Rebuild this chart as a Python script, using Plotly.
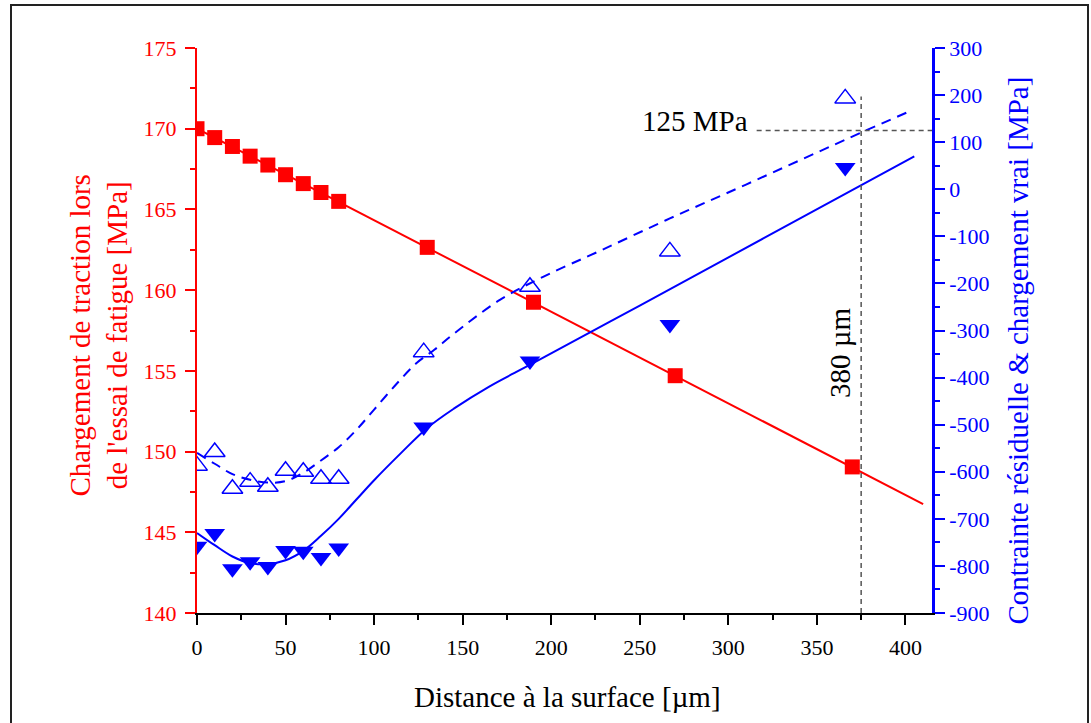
import plotly.graph_objects as go

# ---------------- data ----------------
dist_red = [0, 10, 20, 30, 40, 50, 60, 70, 80, 130, 190, 270, 370]
charge_traction = [170.0, 169.45, 168.9, 168.3, 167.75, 167.15, 166.6, 166.05,
                   165.5, 162.65, 159.25, 154.7, 149.05]
fit_red_x = [0, 410]
fit_red_y = [170.0, 146.75]

dist_blue = [0, 10, 20, 30, 40, 50, 60, 70, 80, 128, 188, 267, 366]
contrainte_residuelle = [-587, -558, -636, -621, -632, -598, -600, -615, -615,
                         -346, -207, -132, 193]
chargement_vrai = [-758, -731, -806, -791, -801, -767, -769, -782, -762,
                   -505, -365, -287, 46]

curve_solid_x = [0, 10, 20, 30, 40, 50, 60, 70, 80, 90, 100, 115, 130, 145,
                 165, 190, 250, 320, 405]
curve_solid_y = [-730, -756, -780, -794, -796, -788, -768, -736, -700, -659,
                 -618, -561, -507, -466, -419, -369, -247, -104, 70]

curve_dash_x = [0, 10, 20, 30, 40, 50, 60, 70, 80, 90, 100, 113, 124, 134,
                145, 171, 196, 228, 267, 310, 376, 402]
curve_dash_y = [-560, -583, -605, -617, -623, -620, -602, -576, -548, -511,
                -468, -412, -369, -341, -307, -235, -185, -130, -62, 10, 122, 165]

ref_x = 375          # vertical guide (µm)
ref_x_top = 197      # top of vertical guide (MPa, right axis)
ref_y = 125          # horizontal guide (MPa, right axis)
ref_y_start = 316    # start of horizontal guide (µm)

x_ticks = [0, 50, 100, 150, 200, 250, 300, 350, 400]
left_ticks = [140, 145, 150, 155, 160, 165, 170, 175]
right_ticks = [-900, -800, -700, -600, -500, -400, -300, -200, -100, 0, 100, 200, 300]

RED = '#ff0000'
BLUE = '#0000ff'
FONT = 'Liberation Serif'

fig = go.Figure()

# blue curves (right axis)
fig.add_trace(go.Scatter(x=curve_dash_x, y=curve_dash_y, yaxis='y2', mode='lines',
                         line=dict(color=BLUE, width=2, dash='10px,7px', shape='spline'),
                         hoverinfo='skip'))
fig.add_trace(go.Scatter(x=curve_solid_x, y=curve_solid_y, yaxis='y2', mode='lines',
                         line=dict(color=BLUE, width=2, shape='spline'),
                         hoverinfo='skip'))
fig.add_trace(go.Scatter(x=dist_blue, y=contrainte_residuelle, yaxis='y2', mode='markers',
                         marker=dict(symbol='triangle-up-open', size=18, color=BLUE,
                                     line=dict(color=BLUE, width=1.5)),
                         name='Contrainte résiduelle'))
fig.add_trace(go.Scatter(x=dist_blue, y=chargement_vrai, yaxis='y2', mode='markers',
                         marker=dict(symbol='triangle-down', size=18, color=BLUE),
                         name='Chargement vrai'))

# red (left axis)
fig.add_trace(go.Scatter(x=fit_red_x, y=fit_red_y, mode='lines',
                         line=dict(color=RED, width=2), hoverinfo='skip'))
fig.add_trace(go.Scatter(x=dist_red, y=charge_traction, mode='markers',
                         marker=dict(symbol='square', size=15, color=RED),
                         name='Chargement de traction'))

# guide lines
guide = dict(color='#555555', width=1.5, dash='5px,4px')
fig.add_shape(type='line', xref='x', yref='y2', x0=ref_x, x1=ref_x,
              y0=right_ticks[0], y1=ref_x_top, line=guide)
fig.add_shape(type='line', xref='x', yref='y2', x0=ref_y_start, x1=415,
              y0=ref_y, y1=ref_y, line=guide)

# outer frame
fig.add_shape(type='rect', xref='paper', yref='paper',
              x0=(11 - 197) / 735, x1=(1088 - 197) / 735,
              y0=(613 - 726) / 565, y1=(613 - 5) / 565,
              line=dict(color='#222222', width=2), layer='above')

# texts
fig.add_annotation(x=281.4, y=144, xref='x', yref='y2', text='125 MPa', showarrow=False,
                   font=dict(family=FONT, size=29, color='black'),
                   xanchor='center', yanchor='middle')
fig.add_annotation(x=362.7, y=-347, xref='x', yref='y2', text='380 µm', showarrow=False,
                   textangle=-90, font=dict(family=FONT, size=29, color='black'),
                   xanchor='center', yanchor='middle')
fig.add_annotation(x=(567 - 197) / 735, y=(613 - 697) / 565, xref='paper', yref='paper',
                   text='Distance à la surface [µm]', showarrow=False,
                   font=dict(family=FONT, size=29, color='black'),
                   xanchor='center', yanchor='middle')
fig.add_annotation(x=(98.5 - 197) / 735, y=(613 - 336) / 565, xref='paper', yref='paper',
                   text="Chargement de traction lors<br>de l'essai de fatigue [MPa]",
                   showarrow=False, textangle=-90,
                   font=dict(family=FONT, size=29, color=RED),
                   xanchor='center', yanchor='middle')
fig.add_annotation(x=(1017.5 - 197) / 735, y=(613 - 351) / 565, xref='paper', yref='paper',
                   text='Contrainte résiduelle & chargement vrai [MPa]',
                   showarrow=False, textangle=-90,
                   font=dict(family=FONT, size=29, color=BLUE),
                   xanchor='center', yanchor='middle')

fig.update_layout(
    width=1091, height=723,
    margin=dict(l=197, r=159, t=48, b=110),
    plot_bgcolor='white', paper_bgcolor='white',
    showlegend=False,
    font=dict(family=FONT, size=22),
    xaxis=dict(range=[0, 415], tickmode='array', tickvals=x_ticks,
               ticktext=[str(v) for v in x_ticks],
               showline=True, linecolor='black', linewidth=2,
               ticks='outside', ticklen=10, tickwidth=2, tickcolor='black',
               ticklabelstandoff=4,
               minor=dict(ticks='outside', ticklen=5, tickwidth=2, dtick=25, tick0=0,
                          tickcolor='black'),
               tickfont=dict(family=FONT, size=22, color='black'),
               showgrid=False, zeroline=False, mirror=False),
    yaxis=dict(range=[140, 175], tickmode='array', tickvals=left_ticks,
               ticktext=[str(v) for v in left_ticks],
               showline=True, linecolor=RED, linewidth=2,
               ticks='outside', ticklen=10, tickwidth=2, tickcolor=RED,
               ticklabelstandoff=4,
               minor=dict(ticks='outside', ticklen=5, tickwidth=2, dtick=2.5, tick0=140,
                          tickcolor=RED),
               tickfont=dict(family=FONT, size=22, color=RED),
               showgrid=False, zeroline=False),
    yaxis2=dict(range=[-900, 300], overlaying='y', side='right', tickmode='array',
                tickvals=right_ticks, ticktext=[str(v) for v in right_ticks],
                showline=True, linecolor=BLUE, linewidth=2.5,
                ticks='outside', ticklen=10, tickwidth=2, tickcolor=BLUE,
                minor=dict(ticks='outside', ticklen=5, tickwidth=2, dtick=50, tick0=-900,
                           tickcolor=BLUE),
                tickfont=dict(family=FONT, size=22, color=BLUE),
                showgrid=False, zeroline=False),
)

fig.write_html('out.html', config={'displayModeBar': False},
               post_script="document.body.style.margin='0px';")
